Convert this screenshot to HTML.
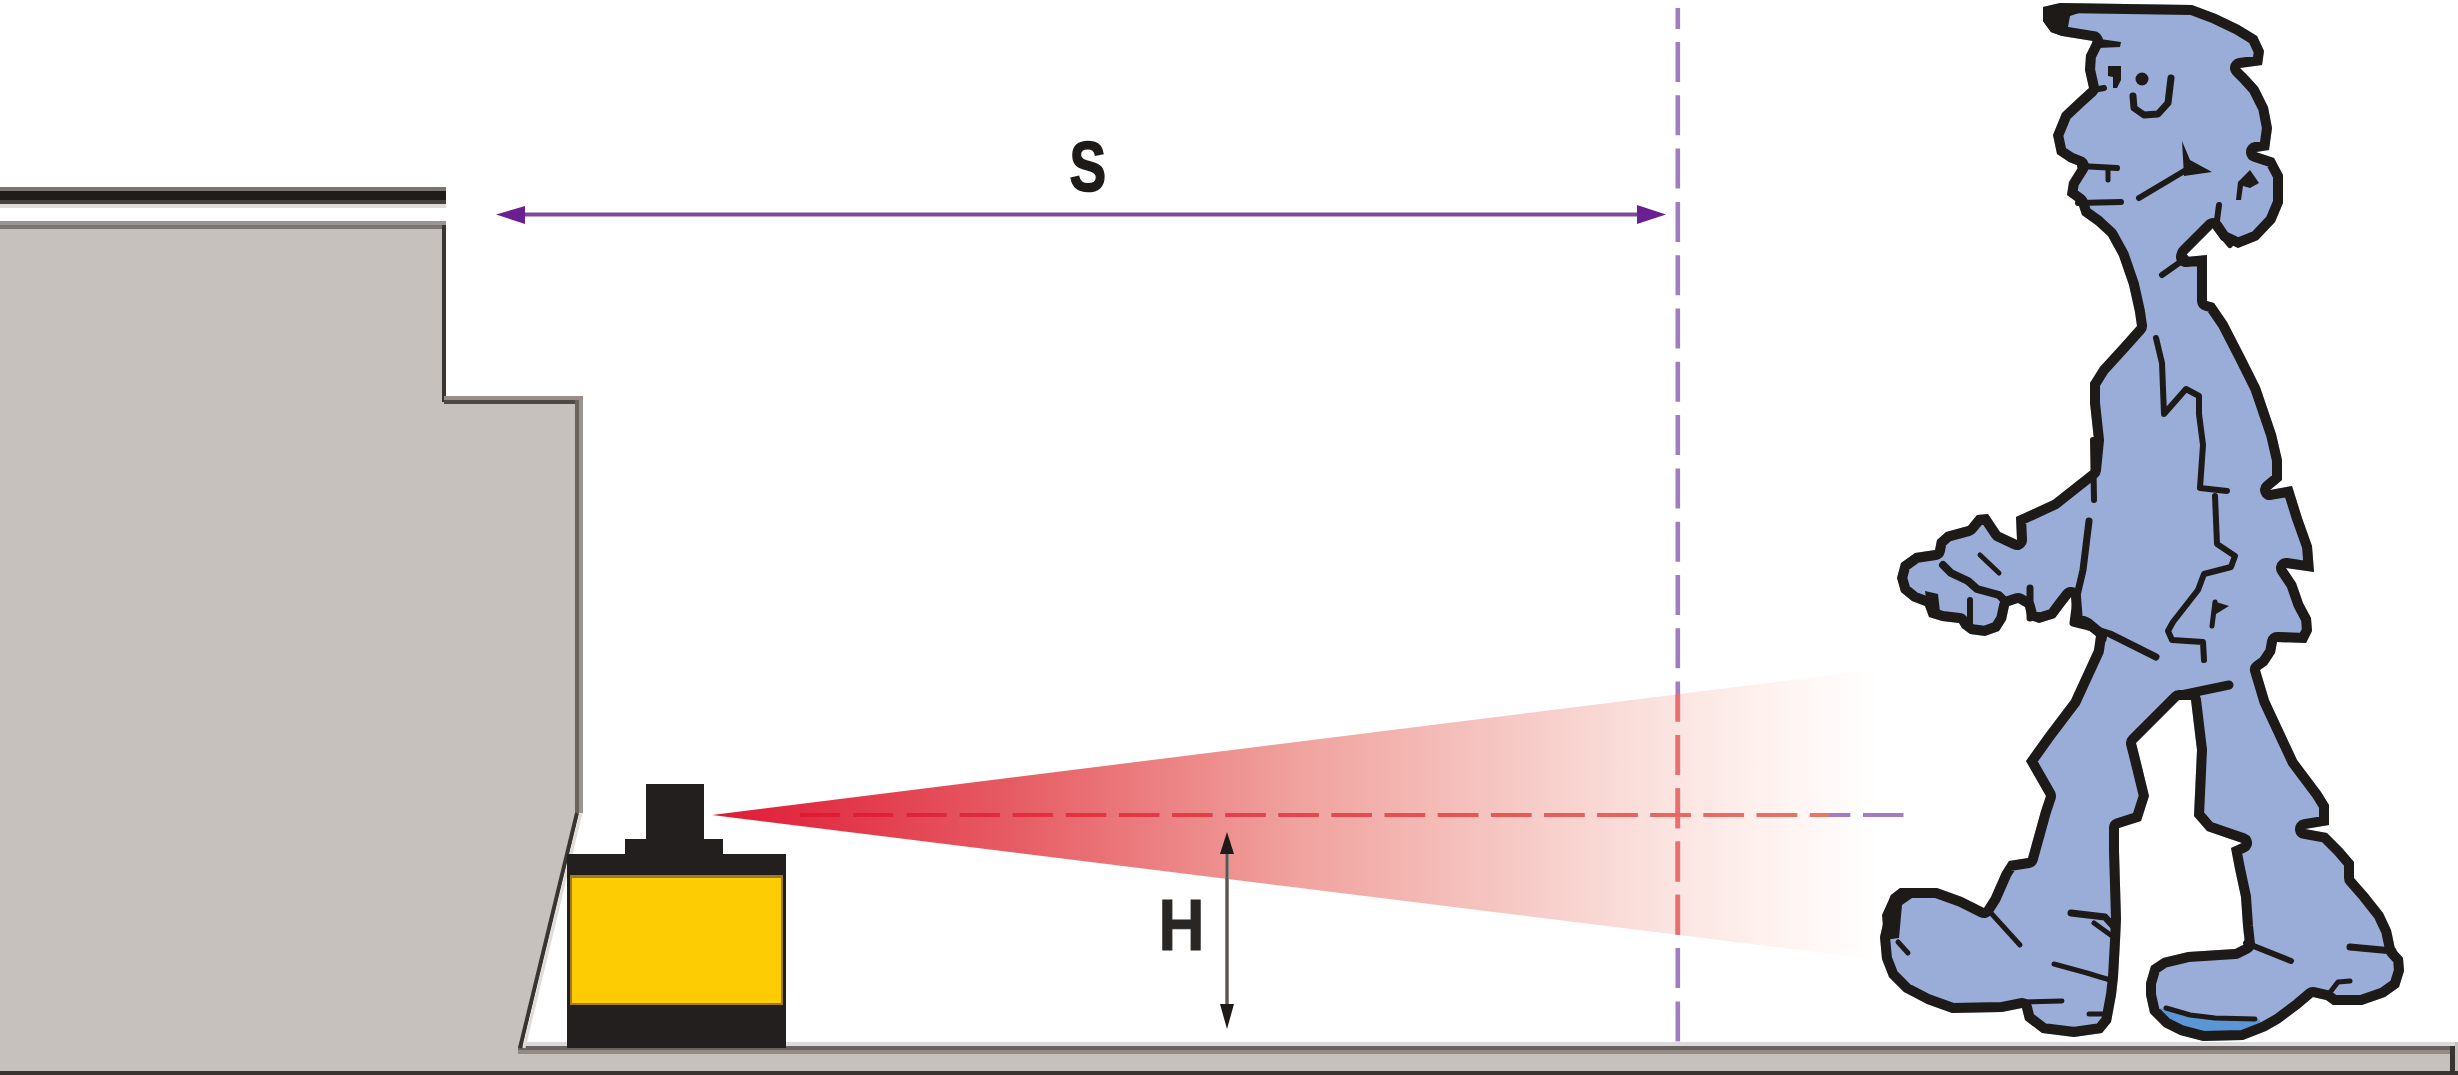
<!DOCTYPE html>
<html><head><meta charset="utf-8">
<style>
html,body{margin:0;padding:0;background:#fff;width:2458px;height:1075px;overflow:hidden}
svg{display:block}
text{font-family:"Liberation Sans",sans-serif;font-weight:bold}
</style></head><body>
<svg width="2458" height="1075" viewBox="0 0 2458 1075">
<defs>
<linearGradient id="cone" gradientUnits="userSpaceOnUse" x1="712" y1="0" x2="1880" y2="0">
<stop offset="0" stop-color="#df1a36"/>
<stop offset="0.25" stop-color="#e65a62"/>
<stop offset="0.5" stop-color="#f0a29e"/>
<stop offset="0.8" stop-color="#fae0dc"/>
<stop offset="0.93" stop-color="#fff6f4"/>
<stop offset="1" stop-color="#ffffff"/>
</linearGradient>
<clipPath id="coneclip"><polygon points="712,815 1880,669 1880,960"/></clipPath>
<linearGradient id="lineg" gradientUnits="userSpaceOnUse" x1="800" y1="0" x2="1830" y2="0">
<stop offset="0" stop-color="#de1a32"/>
<stop offset="0.5" stop-color="#e5474f"/>
<stop offset="1" stop-color="#ea7566"/>
</linearGradient>
</defs>

<!-- floor / ground band -->
<rect x="0" y="1042" width="2458" height="33" fill="#c6c1bd"/>
<rect x="518" y="1042" width="1937" height="4" fill="#dcdad8"/>
<rect x="518" y="1046" width="1937" height="4" fill="#686260"/>
<rect x="518" y="1050" width="1937" height="4" fill="#948a84"/>
<rect x="2450" y="1046" width="5" height="29" fill="#3a3430"/>
<rect x="0" y="1071" width="2458" height="4" fill="#3a3430"/>

<!-- machine -->
<polygon points="0,222 444,222 444,398 579,398 579,813 520,1046 0,1046" fill="#c6c1bd"/>
<rect x="0" y="221" width="446" height="4" fill="#9a9492"/>
<rect x="0" y="225" width="446" height="4" fill="#7a7472"/>
<rect x="442" y="225" width="4" height="177" fill="#3a3431"/>
<rect x="444" y="396" width="139" height="4" fill="#9a8e8c"/>
<rect x="444" y="400" width="135" height="4" fill="#4e4844"/>
<rect x="575" y="400" width="4" height="413" fill="#6a625e"/>
<rect x="579" y="400" width="4" height="413" fill="#9a9490"/>
<polyline points="577,813 520,1048" fill="none" stroke="#3a3431" stroke-width="4"/>
<polyline points="581,813 524,1048" fill="none" stroke="#e0dcd9" stroke-width="3"/>

<!-- top black bar -->
<rect x="0" y="187" width="446" height="4" fill="#7a7472"/>
<rect x="0" y="191" width="446" height="9" fill="#201c1a"/>
<rect x="0" y="200" width="446" height="4" fill="#48423f"/>
<rect x="0" y="204" width="446" height="4" fill="#e0dcd9"/>

<!-- cone -->
<polygon points="712,815 1880,669 1880,960" fill="url(#cone)"/>

<!-- dashed vertical line (purple) -->
<line x1="1677.8" y1="42" x2="1677.8" y2="1042" stroke="#a27cc0" stroke-width="4.6" stroke-dasharray="40 13.3"/>
<line x1="1677.8" y1="8" x2="1677.8" y2="29" stroke="#a27cc0" stroke-width="4.6"/>
<!-- dashed horizontal line -->
<line x1="800" y1="815" x2="1904" y2="815" stroke="#a27cc0" stroke-width="4.2" stroke-dasharray="40.5 12.65"/>
<g clip-path="url(#coneclip)">
<line x1="1677.8" y1="42" x2="1677.8" y2="1042" stroke="#e9706c" stroke-width="4.6" stroke-dasharray="40 13.3"/>
</g>
<clipPath id="redclip"><rect x="700" y="800" width="1130" height="30"/></clipPath>
<line x1="800" y1="815" x2="1904" y2="815" stroke="url(#lineg)" stroke-width="4.2" stroke-dasharray="40.5 12.65" clip-path="url(#redclip)"/>

<!-- S dimension -->
<line x1="522" y1="214.5" x2="1640" y2="214.5" stroke="#7d4a98" stroke-width="4"/>
<polygon points="496,214.5 525,206 525,224" fill="#6a2090"/>
<polygon points="1666,214.5 1637,205 1637,224" fill="#6a2090"/>
<text transform="translate(1069.4,190.8) scale(0.775,1)" x="0" y="0" font-size="71" fill="#1e1a18" stroke="#1e1a18" stroke-width="1.6">S</text>

<!-- scanner -->
<rect x="567" y="854" width="219" height="194" fill="#231f1e"/>
<rect x="570" y="875" width="213" height="130" fill="#a07a28"/>
<rect x="572" y="878" width="209" height="125" fill="#fecc02"/>
<rect x="625" y="839" width="98" height="17" fill="#231f1e"/>
<rect x="646" y="784" width="58" height="58" fill="#231f1e"/>

<!-- H dimension -->
<line x1="1227" y1="850" x2="1227" y2="1008" stroke="#8a8684" stroke-width="4"/>
<line x1="1227" y1="850" x2="1227" y2="1008" stroke="#4a4644" stroke-width="1.5"/>
<polygon points="1227,832 1220,854 1234,854" fill="#1e1a18"/>
<polygon points="1227,1029 1220,1004 1234,1004" fill="#1e1a18"/>
<text transform="translate(1158.5,949.6) scale(0.885,1)" x="0" y="0" font-size="72" fill="#2a2624" stroke="#2a2624" stroke-width="1">H</text>

<!-- MAN -->
<g id="man">
<clipPath id="mclip"><path d="M2043,7 L2060,3 L2192,5 L2216,14 L2239,25 L2257,36 L2264,51 L2262,65 L2240,68 L2248,76 L2258,87 L2268,107 L2272,128 L2269,150 L2256,152 L2274,158 L2283,175 L2283,203 L2275,222 L2258,240 L2238,248 L2221,240 L2213,228 L2197,244 L2187,254 L2186,257 L2207,255 L2207,301 L2214,303 L2227,322 L2244,355 L2260,387 L2276,434 L2282,460 L2282,480 L2270,490 L2292,486 L2302,518 L2312,546 L2314,572 L2286,568 L2296,583 L2303,603 L2311,618 L2312,631 L2306,643 L2277,642 L2275,653 L2267,665 L2260,670 L2269,700 L2297,760 L2321,792 L2329,805 L2329,825 L2305,829 L2327,833 L2342,848 L2354,862 L2354,878 L2368,894 L2383,913 L2391,930 L2395,949 L2403,958 L2404,971 L2399,987 L2385,997 L2362,1005 L2333,1005 L2326,1000 L2313,997 L2300,1008 L2280,1023 L2266,1031 L2243,1040 L2203,1041 L2180,1035 L2164,1027 L2150,1013 L2146,995 L2146,983 L2151,966 L2163,958 L2188,952 L2235,949 L2245,944 L2243,926 L2241,897 L2235,869 L2231,848 L2242,843 L2207,831 L2194,816 L2197,750 L2191,700 L2179,700 L2136,743 L2141,763 L2149,796 L2141,821 L2119,828 L2119,851 L2121,919 L2120,941 L2118,977 L2116,995 L2111,1022 L2102,1033 L2074,1037 L2042,1033 L2025,1020 L2022,1008 L2002,1012 L1952,1013 L1927,1004 L1904,992 L1889,977 L1882,959 L1880,937 L1885,915 L1891,895 L1900,888 L1937,888 L1962,897 L1984,908 L1991,897 L2002,872 L2009,861 L2028,858 L2041,811 L2046,796 L2026,761 L2046,733 L2071,700 L2094,650 L2096,636 L2097,637 L2085,627 L2073,622 L2071,597 L2064,606 L2055,618 L2039,623 L2028,619 L2025,607 L2018,603 L2009,606 L2006,620 L1999,631 L1985,636 L1970,634 L1962,628 L1959,623 L1942,621 L1929,617 L1925,606 L1912,601 L1901,592 L1897,578 L1901,563 L1915,553 L1935,550 L1937,540 L1946,532 L1968,526 L1977,515 L1988,514 L2000,532 L2017,540 L2016,517 L2053,500 L2091,470 L2094,440 L2090,403 L2090,383 L2100,367 L2121,344 L2137,326 L2135,312 L2129,285 L2119,256 L2108,236 L2096,225 L2082,215 L2078,203 L2067,195 L2069,182 L2079,166 L2069,162 L2057,154 L2053,135 L2062,113 L2078,98 L2089,88 L2085,70 L2086,55 L2093,41 L2062,36 L2051,32 L2043,21 Z"/></clipPath>
<path d="M2043,7 L2060,3 L2192,5 L2216,14 L2239,25 L2257,36 L2264,51 L2262,65 L2240,68 L2248,76 L2258,87 L2268,107 L2272,128 L2269,150 L2256,152 L2274,158 L2283,175 L2283,203 L2275,222 L2258,240 L2238,248 L2221,240 L2213,228 L2197,244 L2187,254 L2186,257 L2207,255 L2207,301 L2214,303 L2227,322 L2244,355 L2260,387 L2276,434 L2282,460 L2282,480 L2270,490 L2292,486 L2302,518 L2312,546 L2314,572 L2286,568 L2296,583 L2303,603 L2311,618 L2312,631 L2306,643 L2277,642 L2275,653 L2267,665 L2260,670 L2269,700 L2297,760 L2321,792 L2329,805 L2329,825 L2305,829 L2327,833 L2342,848 L2354,862 L2354,878 L2368,894 L2383,913 L2391,930 L2395,949 L2403,958 L2404,971 L2399,987 L2385,997 L2362,1005 L2333,1005 L2326,1000 L2313,997 L2300,1008 L2280,1023 L2266,1031 L2243,1040 L2203,1041 L2180,1035 L2164,1027 L2150,1013 L2146,995 L2146,983 L2151,966 L2163,958 L2188,952 L2235,949 L2245,944 L2243,926 L2241,897 L2235,869 L2231,848 L2242,843 L2207,831 L2194,816 L2197,750 L2191,700 L2179,700 L2136,743 L2141,763 L2149,796 L2141,821 L2119,828 L2119,851 L2121,919 L2120,941 L2118,977 L2116,995 L2111,1022 L2102,1033 L2074,1037 L2042,1033 L2025,1020 L2022,1008 L2002,1012 L1952,1013 L1927,1004 L1904,992 L1889,977 L1882,959 L1880,937 L1885,915 L1891,895 L1900,888 L1937,888 L1962,897 L1984,908 L1991,897 L2002,872 L2009,861 L2028,858 L2041,811 L2046,796 L2026,761 L2046,733 L2071,700 L2094,650 L2096,636 L2097,637 L2085,627 L2073,622 L2071,597 L2064,606 L2055,618 L2039,623 L2028,619 L2025,607 L2018,603 L2009,606 L2006,620 L1999,631 L1985,636 L1970,634 L1962,628 L1959,623 L1942,621 L1929,617 L1925,606 L1912,601 L1901,592 L1897,578 L1901,563 L1915,553 L1935,550 L1937,540 L1946,532 L1968,526 L1977,515 L1988,514 L2000,532 L2017,540 L2016,517 L2053,500 L2091,470 L2094,440 L2090,403 L2090,383 L2100,367 L2121,344 L2137,326 L2135,312 L2129,285 L2119,256 L2108,236 L2096,225 L2082,215 L2078,203 L2067,195 L2069,182 L2079,166 L2069,162 L2057,154 L2053,135 L2062,113 L2078,98 L2089,88 L2085,70 L2086,55 L2093,41 L2062,36 L2051,32 L2043,21 Z" fill="#9aadd8"/>
<path d="M2160,1008 L2185,1016 L2215,1019 L2258,1019 L2266,1026 L2243,1034 L2203,1036 L2180,1031 L2164,1022 Z" fill="#5a96d6"/>
<path d="M2043,7 L2060,3 L2192,5 L2216,14 L2239,25 L2257,36 L2264,51 L2262,65 L2240,68 L2248,76 L2258,87 L2268,107 L2272,128 L2269,150 L2256,152 L2274,158 L2283,175 L2283,203 L2275,222 L2258,240 L2238,248 L2221,240 L2213,228 L2197,244 L2187,254 L2186,257 L2207,255 L2207,301 L2214,303 L2227,322 L2244,355 L2260,387 L2276,434 L2282,460 L2282,480 L2270,490 L2292,486 L2302,518 L2312,546 L2314,572 L2286,568 L2296,583 L2303,603 L2311,618 L2312,631 L2306,643 L2277,642 L2275,653 L2267,665 L2260,670 L2269,700 L2297,760 L2321,792 L2329,805 L2329,825 L2305,829 L2327,833 L2342,848 L2354,862 L2354,878 L2368,894 L2383,913 L2391,930 L2395,949 L2403,958 L2404,971 L2399,987 L2385,997 L2362,1005 L2333,1005 L2326,1000 L2313,997 L2300,1008 L2280,1023 L2266,1031 L2243,1040 L2203,1041 L2180,1035 L2164,1027 L2150,1013 L2146,995 L2146,983 L2151,966 L2163,958 L2188,952 L2235,949 L2245,944 L2243,926 L2241,897 L2235,869 L2231,848 L2242,843 L2207,831 L2194,816 L2197,750 L2191,700 L2179,700 L2136,743 L2141,763 L2149,796 L2141,821 L2119,828 L2119,851 L2121,919 L2120,941 L2118,977 L2116,995 L2111,1022 L2102,1033 L2074,1037 L2042,1033 L2025,1020 L2022,1008 L2002,1012 L1952,1013 L1927,1004 L1904,992 L1889,977 L1882,959 L1880,937 L1885,915 L1891,895 L1900,888 L1937,888 L1962,897 L1984,908 L1991,897 L2002,872 L2009,861 L2028,858 L2041,811 L2046,796 L2026,761 L2046,733 L2071,700 L2094,650 L2096,636 L2097,637 L2085,627 L2073,622 L2071,597 L2064,606 L2055,618 L2039,623 L2028,619 L2025,607 L2018,603 L2009,606 L2006,620 L1999,631 L1985,636 L1970,634 L1962,628 L1959,623 L1942,621 L1929,617 L1925,606 L1912,601 L1901,592 L1897,578 L1901,563 L1915,553 L1935,550 L1937,540 L1946,532 L1968,526 L1977,515 L1988,514 L2000,532 L2017,540 L2016,517 L2053,500 L2091,470 L2094,440 L2090,403 L2090,383 L2100,367 L2121,344 L2137,326 L2135,312 L2129,285 L2119,256 L2108,236 L2096,225 L2082,215 L2078,203 L2067,195 L2069,182 L2079,166 L2069,162 L2057,154 L2053,135 L2062,113 L2078,98 L2089,88 L2085,70 L2086,55 L2093,41 L2062,36 L2051,32 L2043,21 Z" fill="none" stroke="#1e1a18" stroke-width="20" stroke-linejoin="round" clip-path="url(#mclip)"/>
<path d="M2133,96 L2134,108 L2144,115 L2158,114 L2168,103 L2171,78" fill="none" stroke="#1e1a18" stroke-width="7" stroke-linejoin="round" stroke-linecap="round"/>
<path d="M2139,198 L2186,170" fill="none" stroke="#1e1a18" stroke-width="6" stroke-linejoin="round" stroke-linecap="round"/>
<path d="M2080,166 L2117,168" fill="none" stroke="#1e1a18" stroke-width="6" stroke-linejoin="round" stroke-linecap="round"/>
<path d="M2108,168 L2108,180" fill="none" stroke="#1e1a18" stroke-width="5" stroke-linejoin="round" stroke-linecap="round"/>
<path d="M2078,203 L2121,202" fill="none" stroke="#1e1a18" stroke-width="6" stroke-linejoin="round" stroke-linecap="round"/>
<path d="M2219,205 L2216,228 L2230,245" fill="none" stroke="#1e1a18" stroke-width="6" stroke-linejoin="round" stroke-linecap="round"/>
<path d="M2162,275 L2186,258" fill="none" stroke="#1e1a18" stroke-width="6" stroke-linejoin="round" stroke-linecap="round"/>
<path d="M2156,338 L2162,363 L2164,414 L2186,389 L2199,396 L2199,414 L2203,445 L2200,488 L2227,491" fill="none" stroke="#1e1a18" stroke-width="6" stroke-linejoin="round" stroke-linecap="round"/>
<path d="M2215,496 L2217,544 L2235,556 L2231,567 L2204,574 L2198,590 L2173,622 L2168,631 L2172,640 L2203,642 L2204,660" fill="none" stroke="#1e1a18" stroke-width="6" stroke-linejoin="round" stroke-linecap="round"/>
<path d="M2215,602 L2212,626" fill="none" stroke="#1e1a18" stroke-width="5" stroke-linejoin="round" stroke-linecap="round"/>
<path d="M2093,440 L2094,500" fill="none" stroke="#1e1a18" stroke-width="6" stroke-linejoin="round" stroke-linecap="round"/>
<path d="M2089,521 L2083,570 L2076,600 L2073,623 L2085,626 L2110,634 L2156,657" fill="none" stroke="#1e1a18" stroke-width="7" stroke-linejoin="round" stroke-linecap="round"/>
<path d="M1943,565 L1951,573 L1968,581 L1977,589 L1999,595 L2005,601" fill="none" stroke="#1e1a18" stroke-width="8" stroke-linejoin="round" stroke-linecap="round"/>
<path d="M1970,600 L1970,625" fill="none" stroke="#1e1a18" stroke-width="6" stroke-linejoin="round" stroke-linecap="round"/>
<path d="M1980,555 L1999,573" fill="none" stroke="#1e1a18" stroke-width="5" stroke-linejoin="round" stroke-linecap="round"/>
<path d="M2030,588 L2030,618" fill="none" stroke="#1e1a18" stroke-width="7" stroke-linejoin="round" stroke-linecap="round"/>
<path d="M2093,90 L2104,88" fill="none" stroke="#1e1a18" stroke-width="6" stroke-linejoin="round" stroke-linecap="round"/>
<path d="M2181,695 L2229,685" fill="none" stroke="#1e1a18" stroke-width="9" stroke-linejoin="round" stroke-linecap="round"/>
<path d="M1990,912 L2020,945" fill="none" stroke="#1e1a18" stroke-width="5" stroke-linejoin="round" stroke-linecap="round"/>
<path d="M2071,913 L2105,917 L2114,927" fill="none" stroke="#1e1a18" stroke-width="7" stroke-linejoin="round" stroke-linecap="round"/>
<path d="M2094,923 L2112,936" fill="none" stroke="#1e1a18" stroke-width="5" stroke-linejoin="round" stroke-linecap="round"/>
<path d="M2054,964 L2087,973 L2100,977 L2114,981" fill="none" stroke="#1e1a18" stroke-width="5" stroke-linejoin="round" stroke-linecap="round"/>
<path d="M2022,1002 L2062,1001" fill="none" stroke="#1e1a18" stroke-width="5" stroke-linejoin="round" stroke-linecap="round"/>
<path d="M2089,1014 L2109,1014" fill="none" stroke="#1e1a18" stroke-width="5" stroke-linejoin="round" stroke-linecap="round"/>
<path d="M1898,942 L1908,953" fill="none" stroke="#1e1a18" stroke-width="5" stroke-linejoin="round" stroke-linecap="round"/>
<path d="M2246,943 L2291,961" fill="none" stroke="#1e1a18" stroke-width="6" stroke-linejoin="round" stroke-linecap="round"/>
<path d="M2350,947 L2393,951" fill="none" stroke="#1e1a18" stroke-width="7" stroke-linejoin="round" stroke-linecap="round"/>
<path d="M2328,995 L2338,982 L2350,981" fill="none" stroke="#1e1a18" stroke-width="5" stroke-linejoin="round" stroke-linecap="round"/>
<path d="M2166,1008 L2190,1015 L2215,1018 L2255,1019" fill="none" stroke="#1e1a18" stroke-width="5" stroke-linejoin="round" stroke-linecap="round"/>
<path d="M2043,7 L2075,5 L2082,12 L2070,16 L2068,27 L2080,33 L2062,36 L2051,32 L2043,21 Z" fill="#1e1a18"/>
<path d="M2108,66 L2121,66 L2121,80 L2117,88 L2113,88 L2113,77 L2108,76 Z" fill="#1e1a18"/>
<path d="M2182,141 L2190,160 L2212,172 L2184,176 Z" fill="#1e1a18"/>
<path d="M2236,200 L2238,182 L2250,170 L2259,183 L2250,188 L2243,186 L2241,200 Z" fill="#1e1a18"/>
<path d="M1882,915 L1891,895 L1905,890 L1912,898 L1902,905 L1899,938 L1884,940 Z" fill="#1e1a18"/>
<path d="M1925,591 L1938,594 L1940,612 L1928,612 Z" fill="#1e1a18"/>
<path d="M2213,601 L2229,606 L2216,614 Z" fill="#1e1a18"/>
<path d="M2093,38 L2121,42 L2120,47 L2098,48 L2090,60 Z" fill="#1e1a18"/>
<circle cx="2142" cy="79" r="6.5" fill="#1e1a18"/>
</g>
</svg>
</body></html>
